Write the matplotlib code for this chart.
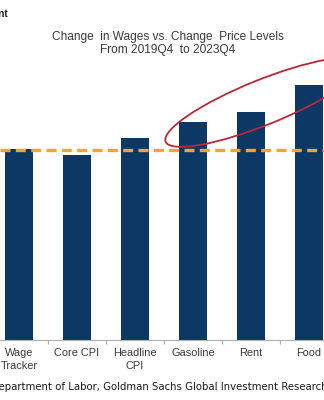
import numpy as np
import matplotlib
matplotlib.use("Agg")
import matplotlib.pyplot as plt
from matplotlib.patches import Ellipse
from matplotlib.transforms import IdentityTransform

# --- data (percent change, 2019Q4 -> 2023Q4) ---
categories = ["Wage\nTracker", "Core CPI", "Headline\nCPI", "Gasoline", "Rent", "Food"]
changes = [19.1, 18.5, 20.2, 21.8, 22.8, 25.5]
wage_level = 19.0
circled = ["Gasoline", "Rent", "Food"]

title = "Change  in Wages vs. Change  Price Levels\nFrom 2019Q4  to 2023Q4"
source = "Source: Department of Labor, Goldman Sachs Global Investment Research"

bar_color = "#0c3866"
line_color = "#f0a33c"
ring_color = "#b8283a"
text_color = "#3a3a3a"

plt.rcParams['font.family'] = ['Liberation Sans', 'DejaVu Sans']

fig = plt.figure(figsize=(3.24, 4.0), dpi=100)
ax = fig.add_axes([0, 0.15, 1, 0.70])

x = np.arange(len(categories))
ax.bar(x, changes, width=0.48, color=bar_color, zorder=2)
ax.axhline(wage_level, color=line_color, lw=2.4, ls=(0, (3.0, 1.6)), zorder=3)

ax.set_xlim(-0.328, 5.259)
ax.set_ylim(0, 28)

for s in ["top", "right", "left"]:
    ax.spines[s].set_visible(False)
ax.spines["bottom"].set_color("#b0b0b0")
ax.spines["bottom"].set_linewidth(0.8)
ax.set_yticks([])

# category labels, tick marks between bars
ax.set_xticks(x)
ax.set_xticklabels(categories, fontsize=7.9, color=text_color, linespacing=1.3)
ax.tick_params(axis="x", which="major", length=0, pad=6)
ax.set_xticks(x[:-1] + 0.5, minor=True)
ax.tick_params(axis="x", which="minor", length=3, color="#b0b0b0", width=0.8)

# red ring around the price categories that outran wages
idx = [categories.index(c) for c in circled]
cx = np.mean(x[idx])
cy = np.mean([changes[i] for i in idx])
px, py = ax.transData.transform((cx, cy))
ring = Ellipse((px + 12, py + 4), width=210, height=45, angle=22,
               transform=IdentityTransform(), fill=False,
               edgecolor=ring_color, lw=1.3, zorder=4)
fig.patches.append(ring)

fig.text(0.518, 0.891, title, ha="center", va="center", fontsize=8.6,
         color=text_color, linespacing=1.2)
fig.text(0.026, 0.965, "Percent", ha="right", va="center", fontsize=7.2,
         color="#222222", fontweight="bold")
fig.text(1.01, 0.032, source, ha="right", va="center", fontsize=8.15,
         color="#1a1a1a", family="DejaVu Sans", fontstretch="condensed")

fig.savefig("out.png", dpi=100, facecolor="white")
